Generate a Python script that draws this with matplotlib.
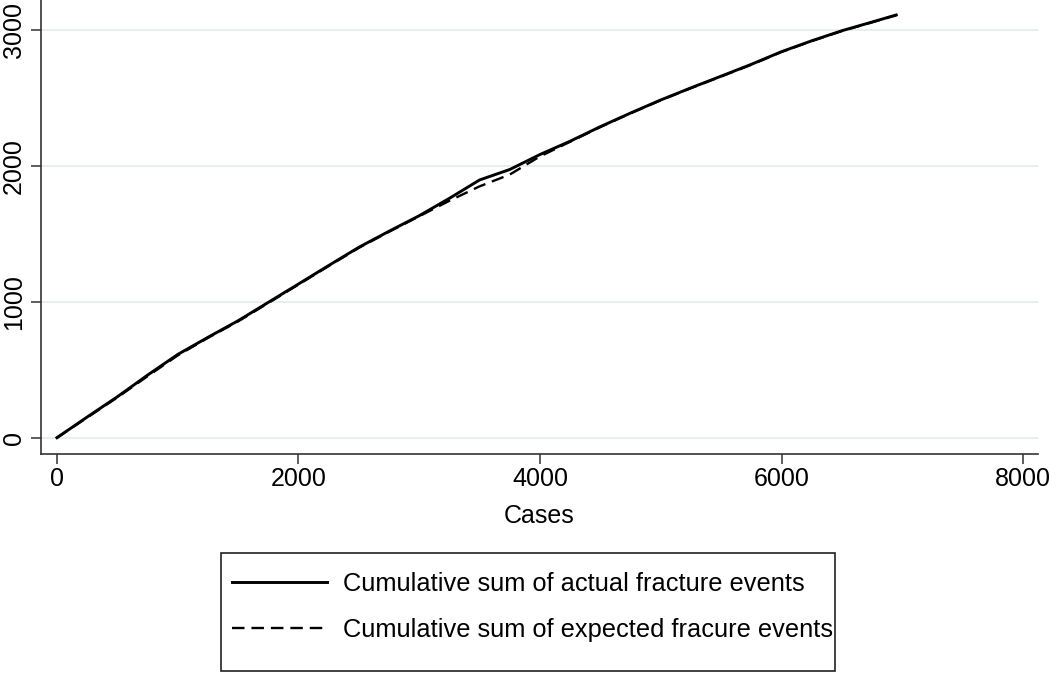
import matplotlib
matplotlib.use("Agg")
import matplotlib.pyplot as plt
from matplotlib.patches import Rectangle

# --- Data
cases = [0, 250, 500, 750, 1000, 1250, 1500, 1750, 2000, 2250, 2500, 2750,
         3000, 3250, 3500, 3750, 4000, 4250, 4500, 4750, 5000, 5250, 5500,
         5750, 6000, 6250, 6500, 6750, 6950]
actual = [0, 152, 301, 460, 612, 738, 860, 995, 1130, 1266, 1400, 1518,
          1632, 1760, 1895, 1972, 2082, 2180, 2287, 2387, 2483, 2572, 2658,
          2745, 2838, 2918, 2992, 3056, 3108]
expected = [0, 148, 296, 452, 605, 734, 855, 990, 1126, 1262, 1396, 1514,
            1628, 1742, 1848, 1935, 2068, 2176, 2284, 2385, 2481, 2570, 2656,
            2742, 2836, 2916, 2990, 3054, 3106]

labels = ["Cumulative sum of actual fracture events",
          "Cumulative sum of expected fracure events"]
x_ticks = [0, 2000, 4000, 6000, 8000]
y_ticks = [0, 1000, 2000, 3000]

plt.rcParams['font.family'] = ['Liberation Sans', 'DejaVu Sans']
plt.rcParams['lines.scale_dashes'] = False

W, H = 1050, 673
fig = plt.figure(figsize=(W / 100, H / 100), dpi=100)
ax = fig.add_axes([41 / W, 1 - 453.5 / H, (1038 - 41) / W, 453.5 / H])

ax.plot(cases, expected, color='black', lw=1.7, ls=(0, (9, 5)), label=labels[1])
ax.plot(cases, actual, color='black', lw=2.1, label=labels[0])

ax.set_xlim(-132, 8124)
ax.set_ylim(-116, 3218)
ax.set_xticks(x_ticks)
ax.set_yticks(y_ticks)
ax.grid(axis='y', color='#e6eef0', lw=1.4)
ax.set_axisbelow(True)

for side in ['top', 'right']:
    ax.spines[side].set_visible(False)
for side in ['left', 'bottom']:
    ax.spines[side].set_color('#333333')
    ax.spines[side].set_linewidth(1.2)

ax.tick_params(axis='both', length=7, width=1.1, color='#333333', labelsize=18)
ax.tick_params(axis='x', pad=3)
ax.tick_params(axis='y', pad=4)
for lbl in ax.get_yticklabels():
    lbl.set_rotation(90)
    lbl.set_va('center')

ax.set_xlabel("Cases", fontsize=18, labelpad=9)

# legend box (Stata style, extra space at the bottom)
fig.patches.append(Rectangle((221 / W, 1 - 671 / H), (835 - 221) / W, (671 - 553) / H,
                             transform=fig.transFigure, fill=False,
                             edgecolor='#222222', lw=1.2))

handles, lbls = ax.get_legend_handles_labels()
order = [1, 0]
leg = fig.legend([handles[i] for i in order], [lbls[i] for i in order],
                 loc='upper left', bbox_to_anchor=(232 / W, 1 - 572 / H),
                 fontsize=18.3, frameon=False,
                 handlelength=3.75, handletextpad=0.6, labelspacing=0.86,
                 borderpad=0, borderaxespad=0)

fig.savefig("out.png", dpi=100, facecolor='white')
